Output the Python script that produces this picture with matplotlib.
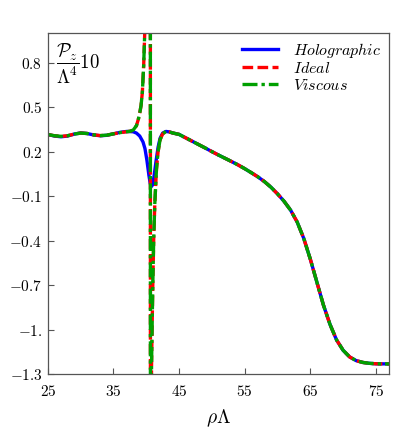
import matplotlib
matplotlib.use("Agg")
import matplotlib.pyplot as plt

plt.rcParams["mathtext.fontset"] = "cm"
plt.rcParams["font.family"] = "serif"
plt.rcParams["font.serif"] = ["DejaVu Serif"]

# holographic curve
holo_x = [25, 26, 27, 28, 29, 30, 31, 32, 33, 34, 35, 36, 37, 38, 38.5,
          39, 39.5, 39.8, 40.1, 40.4, 40.6, 40.8, 41.0, 41.2, 41.5, 41.8,
          42.1, 42.5, 43, 43.5, 44, 45, 46, 47, 48, 49, 50, 51, 52, 53, 54,
          55, 56, 57, 58, 59, 60, 61, 62, 63, 64, 65, 66, 67, 68, 69, 70,
          71, 72, 73, 74, 75, 77]
holo_y = [0.315, 0.305, 0.300, 0.305, 0.318, 0.326, 0.322, 0.312, 0.307,
          0.310, 0.320, 0.330, 0.336, 0.334, 0.325, 0.305, 0.265, 0.22,
          0.14, 0.04, -0.015, -0.035, -0.02, 0.04, 0.14, 0.23, 0.29, 0.325,
          0.336, 0.333, 0.326, 0.316, 0.293, 0.270, 0.247, 0.224, 0.200,
          0.177, 0.155, 0.133, 0.110, 0.085, 0.058, 0.030, -0.002, -0.040,
          -0.085, -0.135, -0.195, -0.275, -0.385, -0.525, -0.68, -0.835,
          -0.965, -1.07, -1.14, -1.185, -1.21, -1.222, -1.228, -1.231,
          -1.232]

# hydro curves: pole near rho*Lambda = 40.6
ideal_x = [25, 26, 27, 28, 29, 30, 31, 32, 33, 34, 35, 36, 37, 37.5, 38,
           38.5, 38.8, 39.0, 39.2, 39.4, 39.6, 39.8, 40.0, 40.3, 40.6,
           40.65, 40.75, 40.8, 40.9, 41.0, 41.13, 41.3, 41.55, 41.8, 42.1,
           42.5, 43, 43.5, 44, 45, 46, 47, 48, 49, 50, 51, 52, 53, 54, 55,
           56, 57, 58, 59, 60, 61, 62, 63, 64, 65, 66, 67, 68, 69, 70, 71,
           72, 73, 74, 75, 77]
ideal_y = [0.315, 0.307, 0.303, 0.307, 0.318, 0.325, 0.322, 0.313, 0.308,
           0.311, 0.320, 0.328, 0.334, 0.337, 0.345, 0.375, 0.42, 0.46,
           0.51, 0.60, 0.78, 1.05, 1.5, 3.0, 10.0, -10.0, -1.6, -1.25,
           -0.95, -0.68, -0.39, -0.15, 0.08, 0.20, 0.28, 0.32, 0.336, 0.333,
           0.326, 0.316, 0.293, 0.270, 0.247, 0.224, 0.200, 0.177, 0.155,
           0.133, 0.110, 0.085, 0.058, 0.030, -0.002, -0.040, -0.085,
           -0.135, -0.195, -0.275, -0.385, -0.525, -0.68, -0.835, -0.965,
           -1.07, -1.14, -1.185, -1.21, -1.222, -1.228, -1.231, -1.232]
viscous_x = list(ideal_x)
viscous_y = list(ideal_y)

xticks = [25, 35, 45, 55, 65, 75]
yticks = [0.8, 0.5, 0.2, -0.1, -0.4, -0.7, -1.0, -1.3]
ytick_labels = ["0.8", "0.5", "0.2", "-0.1", "-0.4", "-0.7", "-1.", "-1.3"]

fig = plt.figure(figsize=(3.99, 4.40), dpi=100)
ax = fig.add_axes([0.120, 0.150, 0.855, 0.775])

ax.plot(holo_x, holo_y, color="#0000ff", lw=2.4, label=r"$Holographic$")
ax.plot(ideal_x, ideal_y, color="#ff0000", lw=2.4, dashes=(3.2, 1.3),
        label=r"$Ideal$")
ax.plot(viscous_x, viscous_y, color="#00a000", lw=2.4,
        dashes=(4.5, 1.2, 1.0, 1.2), label=r"$Viscous$")

ax.set_xlim(25, 77)
ax.set_ylim(-1.3, 1.0)
ax.set_xticks(xticks)
ax.set_xticklabels([f"${t}$" for t in xticks])
ax.set_yticks(yticks)
ax.set_yticklabels([f"${t}$" for t in ytick_labels])
ax.tick_params(direction="in", length=4, width=0.8, labelsize=11,
               color="#555555", pad=4)
ax.tick_params(axis="x", pad=7)
for sp in ax.spines.values():
    sp.set_color("#555555")
    sp.set_linewidth(0.9)

ax.text(0.025, 0.975, r"$\dfrac{\mathcal{P}_z}{\Lambda^4}10$",
        transform=ax.transAxes, fontsize=13.5, va="top", ha="left")
ax.set_xlabel(r"$\rho\Lambda$", fontsize=14, labelpad=6)

ax.legend(loc="upper right", frameon=False, fontsize=11.5, handlelength=2.3,
          labelspacing=0.0, borderaxespad=0.1, handletextpad=0.9)

fig.savefig("out.png", dpi=100)
